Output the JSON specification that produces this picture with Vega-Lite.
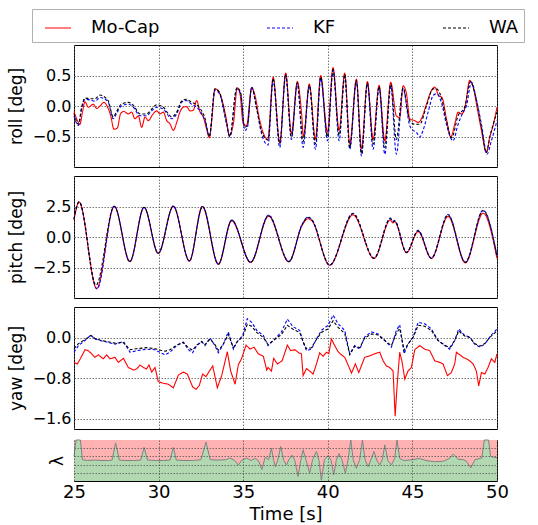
{
"$schema": "https://vega.github.io/schema/vega-lite/v6.json",
"padding": {"left": 6, "top": 8, "right": 2, "bottom": 2},
"background": "white",
"spacing": 7,
"config": {
  "font": "DejaVu Sans",
  "view": {"stroke": "black", "strokeWidth": 1},
  "axis": {"labelFont": "DejaVu Sans", "titleFont": "DejaVu Sans", "labelColor": "black", "titleColor": "black", "titleFontWeight": "normal", "gridColor": "#555555", "gridDash": [1.5, 1.5], "gridWidth": 0.8, "gridOpacity": 1, "domain": false, "ticks": false}
},
"resolve": {"legend": {"color": "independent", "strokeDash": "independent"}},
"datasets": {
"roll": [
{"t":25.0,"v":-0.09,"s":"Mo-Cap"},{"t":25.2,"v":-0.24,"s":"Mo-Cap"},{"t":25.35,"v":-0.3,"s":"Mo-Cap"},{"t":25.5,"v":-0.1,"s":"Mo-Cap"},{"t":25.65,"v":0.07,"s":"Mo-Cap"},{"t":25.85,"v":-0.02,"s":"Mo-Cap"},{"t":26.14,"v":0.03,"s":"Mo-Cap"},{"t":26.34,"v":-0.04,"s":"Mo-Cap"},{"t":26.54,"v":0.0,"s":"Mo-Cap"},{"t":26.77,"v":0.06,"s":"Mo-Cap"},{"t":26.97,"v":-0.01,"s":"Mo-Cap"},{"t":27.17,"v":-0.16,"s":"Mo-Cap"},{"t":27.36,"v":-0.38,"s":"Mo-Cap"},{"t":27.56,"v":-0.36,"s":"Mo-Cap"},{"t":27.76,"v":-0.12,"s":"Mo-Cap"},{"t":27.95,"v":-0.09,"s":"Mo-Cap"},{"t":28.21,"v":-0.13,"s":"Mo-Cap"},{"t":28.41,"v":-0.1,"s":"Mo-Cap"},{"t":28.6,"v":-0.21,"s":"Mo-Cap"},{"t":28.8,"v":-0.16,"s":"Mo-Cap"},{"t":29.0,"v":-0.35,"s":"Mo-Cap"},{"t":29.2,"v":-0.18,"s":"Mo-Cap"},{"t":29.39,"v":-0.24,"s":"Mo-Cap"},{"t":29.65,"v":-0.14,"s":"Mo-Cap"},{"t":29.89,"v":-0.08,"s":"Mo-Cap"},{"t":30.08,"v":-0.13,"s":"Mo-Cap"},{"t":30.28,"v":-0.1,"s":"Mo-Cap"},{"t":30.48,"v":-0.24,"s":"Mo-Cap"},{"t":30.67,"v":-0.29,"s":"Mo-Cap"},{"t":30.87,"v":-0.4,"s":"Mo-Cap"},{"t":31.07,"v":-0.27,"s":"Mo-Cap"},{"t":31.26,"v":-0.1,"s":"Mo-Cap"},{"t":31.46,"v":-0.02,"s":"Mo-Cap"},{"t":31.66,"v":-0.01,"s":"Mo-Cap"},{"t":31.86,"v":-0.08,"s":"Mo-Cap"},{"t":32.05,"v":-0.07,"s":"Mo-Cap"},{"t":32.25,"v":0.09,"s":"Mo-Cap"},{"t":32.45,"v":-0.1,"s":"Mo-Cap"},{"t":32.64,"v":-0.18,"s":"Mo-Cap"},{"t":32.84,"v":-0.38,"s":"Mo-Cap"},{"t":33.0,"v":-0.52,"s":"Mo-Cap"},{"t":33.14,"v":-0.24,"s":"Mo-Cap"},{"t":33.33,"v":0.28,"s":"Mo-Cap"},{"t":33.53,"v":0.25,"s":"Mo-Cap"},{"t":33.73,"v":0.11,"s":"Mo-Cap"},{"t":33.98,"v":-0.18,"s":"Mo-Cap"},{"t":34.18,"v":-0.48,"s":"Mo-Cap"},{"t":34.42,"v":-0.29,"s":"Mo-Cap"},{"t":34.65,"v":0.3,"s":"Mo-Cap"},{"t":34.81,"v":0.2,"s":"Mo-Cap"},{"t":35.0,"v":-0.29,"s":"Mo-Cap"},{"t":35.2,"v":-0.32,"s":"Mo-Cap"},{"t":35.5,"v":0.3,"s":"Mo-Cap"},{"t":35.7,"v":0.17,"s":"Mo-Cap"},{"t":35.95,"v":-0.2,"s":"Mo-Cap"},{"t":36.2,"v":-0.45,"s":"Mo-Cap"},{"t":36.45,"v":-0.55,"s":"Mo-Cap"},{"t":36.77,"v":0.47,"s":"Mo-Cap"},{"t":37.16,"v":-0.6,"s":"Mo-Cap"},{"t":37.51,"v":0.54,"s":"Mo-Cap"},{"t":37.85,"v":-0.45,"s":"Mo-Cap"},{"t":38.2,"v":0.4,"s":"Mo-Cap"},{"t":38.45,"v":-0.12,"s":"Mo-Cap"},{"t":38.56,"v":-0.5,"s":"Mo-Cap"},{"t":38.91,"v":0.36,"s":"Mo-Cap"},{"t":39.27,"v":-0.54,"s":"Mo-Cap"},{"t":39.58,"v":0.5,"s":"Mo-Cap"},{"t":39.98,"v":-0.43,"s":"Mo-Cap"},{"t":40.31,"v":0.63,"s":"Mo-Cap"},{"t":40.67,"v":-0.4,"s":"Mo-Cap"},{"t":41.0,"v":0.54,"s":"Mo-Cap"},{"t":41.3,"v":-0.62,"s":"Mo-Cap"},{"t":41.69,"v":0.44,"s":"Mo-Cap"},{"t":41.99,"v":-0.7,"s":"Mo-Cap"},{"t":42.34,"v":0.4,"s":"Mo-Cap"},{"t":42.68,"v":-0.54,"s":"Mo-Cap"},{"t":43.03,"v":0.34,"s":"Mo-Cap"},{"t":43.37,"v":-0.57,"s":"Mo-Cap"},{"t":43.72,"v":0.39,"s":"Mo-Cap"},{"t":44.05,"v":-0.16,"s":"Mo-Cap"},{"t":44.25,"v":-0.19,"s":"Mo-Cap"},{"t":44.45,"v":0.33,"s":"Mo-Cap"},{"t":44.65,"v":0.2,"s":"Mo-Cap"},{"t":44.84,"v":-0.21,"s":"Mo-Cap"},{"t":45.14,"v":-0.24,"s":"Mo-Cap"},{"t":45.34,"v":-0.27,"s":"Mo-Cap"},{"t":45.53,"v":-0.21,"s":"Mo-Cap"},{"t":45.83,"v":0.03,"s":"Mo-Cap"},{"t":46.12,"v":0.25,"s":"Mo-Cap"},{"t":46.32,"v":0.31,"s":"Mo-Cap"},{"t":46.56,"v":0.17,"s":"Mo-Cap"},{"t":46.75,"v":0.14,"s":"Mo-Cap"},{"t":47.01,"v":-0.21,"s":"Mo-Cap"},{"t":47.27,"v":-0.51,"s":"Mo-Cap"},{"t":47.5,"v":-0.3,"s":"Mo-Cap"},{"t":47.7,"v":-0.1,"s":"Mo-Cap"},{"t":47.9,"v":-0.13,"s":"Mo-Cap"},{"t":48.09,"v":-0.05,"s":"Mo-Cap"},{"t":48.39,"v":0.42,"s":"Mo-Cap"},{"t":48.59,"v":0.31,"s":"Mo-Cap"},{"t":48.84,"v":-0.05,"s":"Mo-Cap"},{"t":49.08,"v":-0.4,"s":"Mo-Cap"},{"t":49.37,"v":-0.76,"s":"Mo-Cap"},{"t":49.57,"v":-0.51,"s":"Mo-Cap"},{"t":49.77,"v":-0.32,"s":"Mo-Cap"},{"t":50.0,"v":-0.02,"s":"Mo-Cap"},
{"t":25.0,"v":-0.16,"s":"KF"},{"t":25.26,"v":-0.32,"s":"KF"},{"t":25.45,"v":-0.05,"s":"KF"},{"t":25.65,"v":0.11,"s":"KF"},{"t":25.94,"v":0.1,"s":"KF"},{"t":26.24,"v":0.08,"s":"KF"},{"t":26.54,"v":0.14,"s":"KF"},{"t":26.84,"v":0.11,"s":"KF"},{"t":27.03,"v":0.06,"s":"KF"},{"t":27.32,"v":-0.21,"s":"KF"},{"t":27.5,"v":-0.13,"s":"KF"},{"t":27.8,"v":0.0,"s":"KF"},{"t":28.21,"v":0.03,"s":"KF"},{"t":28.51,"v":-0.02,"s":"KF"},{"t":28.9,"v":-0.16,"s":"KF"},{"t":29.29,"v":-0.16,"s":"KF"},{"t":29.59,"v":-0.08,"s":"KF"},{"t":29.89,"v":-0.02,"s":"KF"},{"t":30.28,"v":-0.05,"s":"KF"},{"t":30.58,"v":-0.16,"s":"KF"},{"t":30.77,"v":-0.21,"s":"KF"},{"t":31.07,"v":-0.13,"s":"KF"},{"t":31.36,"v":0.06,"s":"KF"},{"t":31.62,"v":0.09,"s":"KF"},{"t":31.95,"v":0.03,"s":"KF"},{"t":32.25,"v":-0.02,"s":"KF"},{"t":32.45,"v":-0.08,"s":"KF"},{"t":32.74,"v":-0.24,"s":"KF"},{"t":33.0,"v":-0.49,"s":"KF"},{"t":33.33,"v":0.26,"s":"KF"},{"t":33.6,"v":0.2,"s":"KF"},{"t":34.02,"v":-0.3,"s":"KF"},{"t":34.22,"v":-0.51,"s":"KF"},{"t":34.61,"v":0.28,"s":"KF"},{"t":34.85,"v":0.2,"s":"KF"},{"t":35.1,"v":-0.4,"s":"KF"},{"t":35.25,"v":-0.35,"s":"KF"},{"t":35.5,"v":0.31,"s":"KF"},{"t":35.8,"v":-0.05,"s":"KF"},{"t":36.09,"v":-0.46,"s":"KF"},{"t":36.47,"v":-0.64,"s":"KF"},{"t":36.77,"v":0.43,"s":"KF"},{"t":37.16,"v":-0.68,"s":"KF"},{"t":37.51,"v":0.5,"s":"KF"},{"t":37.85,"v":-0.55,"s":"KF"},{"t":38.2,"v":0.36,"s":"KF"},{"t":38.54,"v":-0.68,"s":"KF"},{"t":38.91,"v":0.33,"s":"KF"},{"t":39.27,"v":-0.71,"s":"KF"},{"t":39.58,"v":0.45,"s":"KF"},{"t":39.98,"v":-0.57,"s":"KF"},{"t":40.31,"v":0.58,"s":"KF"},{"t":40.67,"v":-0.57,"s":"KF"},{"t":41.0,"v":0.48,"s":"KF"},{"t":41.3,"v":-0.71,"s":"KF"},{"t":41.69,"v":0.4,"s":"KF"},{"t":41.99,"v":-0.82,"s":"KF"},{"t":42.34,"v":0.36,"s":"KF"},{"t":42.68,"v":-0.71,"s":"KF"},{"t":43.03,"v":0.3,"s":"KF"},{"t":43.37,"v":-0.79,"s":"KF"},{"t":43.72,"v":0.33,"s":"KF"},{"t":44.05,"v":-0.79,"s":"KF"},{"t":44.45,"v":0.28,"s":"KF"},{"t":44.84,"v":-0.32,"s":"KF"},{"t":45.04,"v":-0.4,"s":"KF"},{"t":45.24,"v":-0.43,"s":"KF"},{"t":45.43,"v":-0.51,"s":"KF"},{"t":45.63,"v":-0.4,"s":"KF"},{"t":45.93,"v":-0.1,"s":"KF"},{"t":46.22,"v":0.17,"s":"KF"},{"t":46.42,"v":0.2,"s":"KF"},{"t":46.71,"v":0.06,"s":"KF"},{"t":47.01,"v":-0.3,"s":"KF"},{"t":47.4,"v":-0.57,"s":"KF"},{"t":47.7,"v":-0.3,"s":"KF"},{"t":48.0,"v":-0.1,"s":"KF"},{"t":48.19,"v":0.0,"s":"KF"},{"t":48.49,"v":0.39,"s":"KF"},{"t":48.78,"v":0.11,"s":"KF"},{"t":49.08,"v":-0.3,"s":"KF"},{"t":49.41,"v":-0.79,"s":"KF"},{"t":49.67,"v":-0.57,"s":"KF"},{"t":50.0,"v":-0.24,"s":"KF"},
{"t":25.0,"v":-0.12,"s":"WA"},{"t":25.26,"v":-0.3,"s":"WA"},{"t":25.45,"v":-0.02,"s":"WA"},{"t":25.65,"v":0.13,"s":"WA"},{"t":25.94,"v":0.12,"s":"WA"},{"t":26.24,"v":0.12,"s":"WA"},{"t":26.54,"v":0.18,"s":"WA"},{"t":26.84,"v":0.14,"s":"WA"},{"t":27.03,"v":0.08,"s":"WA"},{"t":27.32,"v":-0.18,"s":"WA"},{"t":27.5,"v":-0.1,"s":"WA"},{"t":27.8,"v":0.03,"s":"WA"},{"t":28.21,"v":0.06,"s":"WA"},{"t":28.51,"v":0.01,"s":"WA"},{"t":28.9,"v":-0.13,"s":"WA"},{"t":29.29,"v":-0.13,"s":"WA"},{"t":29.59,"v":-0.05,"s":"WA"},{"t":29.89,"v":0.02,"s":"WA"},{"t":30.28,"v":-0.02,"s":"WA"},{"t":30.58,"v":-0.13,"s":"WA"},{"t":30.77,"v":-0.18,"s":"WA"},{"t":31.07,"v":-0.1,"s":"WA"},{"t":31.36,"v":0.08,"s":"WA"},{"t":31.62,"v":0.11,"s":"WA"},{"t":31.95,"v":0.06,"s":"WA"},{"t":32.25,"v":0.02,"s":"WA"},{"t":32.45,"v":-0.04,"s":"WA"},{"t":32.74,"v":-0.2,"s":"WA"},{"t":33.0,"v":-0.5,"s":"WA"},{"t":33.33,"v":0.28,"s":"WA"},{"t":33.6,"v":0.22,"s":"WA"},{"t":34.02,"v":-0.28,"s":"WA"},{"t":34.2,"v":-0.5,"s":"WA"},{"t":34.63,"v":0.3,"s":"WA"},{"t":34.85,"v":0.22,"s":"WA"},{"t":35.08,"v":-0.35,"s":"WA"},{"t":35.25,"v":-0.32,"s":"WA"},{"t":35.5,"v":0.3,"s":"WA"},{"t":35.8,"v":-0.05,"s":"WA"},{"t":36.09,"v":-0.42,"s":"WA"},{"t":36.47,"v":-0.56,"s":"WA"},{"t":36.77,"v":0.45,"s":"WA"},{"t":37.16,"v":-0.62,"s":"WA"},{"t":37.51,"v":0.52,"s":"WA"},{"t":37.85,"v":-0.5,"s":"WA"},{"t":38.2,"v":0.38,"s":"WA"},{"t":38.54,"v":-0.58,"s":"WA"},{"t":38.91,"v":0.34,"s":"WA"},{"t":39.27,"v":-0.62,"s":"WA"},{"t":39.58,"v":0.48,"s":"WA"},{"t":39.98,"v":-0.5,"s":"WA"},{"t":40.31,"v":0.6,"s":"WA"},{"t":40.67,"v":-0.48,"s":"WA"},{"t":41.0,"v":0.52,"s":"WA"},{"t":41.3,"v":-0.68,"s":"WA"},{"t":41.69,"v":0.42,"s":"WA"},{"t":41.99,"v":-0.78,"s":"WA"},{"t":42.34,"v":0.38,"s":"WA"},{"t":42.68,"v":-0.62,"s":"WA"},{"t":43.03,"v":0.32,"s":"WA"},{"t":43.37,"v":-0.68,"s":"WA"},{"t":43.72,"v":0.36,"s":"WA"},{"t":44.05,"v":-0.55,"s":"WA"},{"t":44.45,"v":0.3,"s":"WA"},{"t":44.84,"v":-0.24,"s":"WA"},{"t":45.14,"v":-0.3,"s":"WA"},{"t":45.43,"v":-0.3,"s":"WA"},{"t":45.83,"v":0.0,"s":"WA"},{"t":46.22,"v":0.28,"s":"WA"},{"t":46.42,"v":0.28,"s":"WA"},{"t":46.71,"v":0.14,"s":"WA"},{"t":47.01,"v":-0.24,"s":"WA"},{"t":47.32,"v":-0.52,"s":"WA"},{"t":47.7,"v":-0.16,"s":"WA"},{"t":48.09,"v":-0.02,"s":"WA"},{"t":48.43,"v":0.4,"s":"WA"},{"t":48.7,"v":0.2,"s":"WA"},{"t":49.08,"v":-0.35,"s":"WA"},{"t":49.37,"v":-0.76,"s":"WA"},{"t":49.6,"v":-0.48,"s":"WA"},{"t":50.0,"v":-0.1,"s":"WA"}
],
"pitch": [
{"t":25.0,"v":1.4,"s":"Mo-Cap"},{"t":25.3,"v":2.86,"s":"Mo-Cap"},{"t":26.34,"v":-4.23,"s":"Mo-Cap"},{"t":27.38,"v":2.5,"s":"Mo-Cap"},{"t":28.3,"v":-2.03,"s":"Mo-Cap"},{"t":29.14,"v":2.42,"s":"Mo-Cap"},{"t":29.98,"v":-1.35,"s":"Mo-Cap"},{"t":30.87,"v":2.5,"s":"Mo-Cap"},{"t":31.82,"v":-1.98,"s":"Mo-Cap"},{"t":32.58,"v":2.5,"s":"Mo-Cap"},{"t":33.53,"v":-2.25,"s":"Mo-Cap"},{"t":34.32,"v":1.32,"s":"Mo-Cap"},{"t":35.44,"v":-2.09,"s":"Mo-Cap"},{"t":36.5,"v":1.7,"s":"Mo-Cap"},{"t":37.69,"v":-2.03,"s":"Mo-Cap"},{"t":38.5,"v":1.0,"s":"Mo-Cap"},{"t":38.83,"v":1.5,"s":"Mo-Cap"},{"t":39.05,"v":1.35,"s":"Mo-Cap"},{"t":40.11,"v":-2.31,"s":"Mo-Cap"},{"t":41.49,"v":1.81,"s":"Mo-Cap"},{"t":42.73,"v":-1.76,"s":"Mo-Cap"},{"t":43.7,"v":1.4,"s":"Mo-Cap"},{"t":43.85,"v":1.15,"s":"Mo-Cap"},{"t":43.95,"v":1.25,"s":"Mo-Cap"},{"t":44.65,"v":-1.29,"s":"Mo-Cap"},{"t":45.34,"v":0.44,"s":"Mo-Cap"},{"t":46.12,"v":-1.76,"s":"Mo-Cap"},{"t":47.11,"v":1.68,"s":"Mo-Cap"},{"t":48.13,"v":-2.12,"s":"Mo-Cap"},{"t":49.18,"v":1.95,"s":"Mo-Cap"},{"t":50.0,"v":-1.76,"s":"Mo-Cap"},
{"t":25.0,"v":1.5,"s":"KF"},{"t":25.3,"v":2.9,"s":"KF"},{"t":26.36,"v":-4.25,"s":"KF"},{"t":27.38,"v":2.55,"s":"KF"},{"t":28.3,"v":-2.0,"s":"KF"},{"t":29.14,"v":2.45,"s":"KF"},{"t":29.98,"v":-1.32,"s":"KF"},{"t":30.87,"v":2.55,"s":"KF"},{"t":31.82,"v":-1.95,"s":"KF"},{"t":32.6,"v":2.5,"s":"KF"},{"t":33.53,"v":-2.2,"s":"KF"},{"t":34.32,"v":1.4,"s":"KF"},{"t":35.44,"v":-2.05,"s":"KF"},{"t":36.5,"v":1.8,"s":"KF"},{"t":37.7,"v":-2.0,"s":"KF"},{"t":38.5,"v":1.1,"s":"KF"},{"t":38.83,"v":1.65,"s":"KF"},{"t":39.05,"v":1.45,"s":"KF"},{"t":40.11,"v":-2.3,"s":"KF"},{"t":41.49,"v":1.95,"s":"KF"},{"t":42.73,"v":-1.72,"s":"KF"},{"t":43.7,"v":1.55,"s":"KF"},{"t":43.85,"v":1.3,"s":"KF"},{"t":43.95,"v":1.35,"s":"KF"},{"t":44.65,"v":-1.25,"s":"KF"},{"t":45.34,"v":0.55,"s":"KF"},{"t":46.12,"v":-1.72,"s":"KF"},{"t":47.11,"v":1.85,"s":"KF"},{"t":48.13,"v":-2.05,"s":"KF"},{"t":49.18,"v":2.2,"s":"KF"},{"t":50.0,"v":-1.5,"s":"KF"},
{"t":25.0,"v":1.45,"s":"WA"},{"t":25.3,"v":2.88,"s":"WA"},{"t":26.3,"v":-3.95,"s":"WA"},{"t":27.38,"v":2.52,"s":"WA"},{"t":28.3,"v":-2.02,"s":"WA"},{"t":29.14,"v":2.44,"s":"WA"},{"t":29.98,"v":-1.33,"s":"WA"},{"t":30.87,"v":2.52,"s":"WA"},{"t":31.82,"v":-1.96,"s":"WA"},{"t":32.6,"v":2.5,"s":"WA"},{"t":33.53,"v":-2.22,"s":"WA"},{"t":34.32,"v":1.38,"s":"WA"},{"t":35.44,"v":-2.07,"s":"WA"},{"t":36.5,"v":1.75,"s":"WA"},{"t":37.7,"v":-2.02,"s":"WA"},{"t":38.5,"v":1.05,"s":"WA"},{"t":38.83,"v":1.6,"s":"WA"},{"t":39.05,"v":1.4,"s":"WA"},{"t":40.11,"v":-2.3,"s":"WA"},{"t":41.49,"v":1.9,"s":"WA"},{"t":42.73,"v":-1.74,"s":"WA"},{"t":43.7,"v":1.5,"s":"WA"},{"t":43.85,"v":1.25,"s":"WA"},{"t":43.95,"v":1.3,"s":"WA"},{"t":44.65,"v":-1.27,"s":"WA"},{"t":45.34,"v":0.5,"s":"WA"},{"t":46.12,"v":-1.74,"s":"WA"},{"t":47.11,"v":1.8,"s":"WA"},{"t":48.13,"v":-2.08,"s":"WA"},{"t":49.18,"v":2.15,"s":"WA"},{"t":50.0,"v":-1.6,"s":"WA"}
],
"yaw": [
{"t":25.0,"v":-0.49,"s":"Mo-Cap"},{"t":25.2,"v":-0.52,"s":"Mo-Cap"},{"t":25.39,"v":-0.41,"s":"Mo-Cap"},{"t":25.65,"v":-0.24,"s":"Mo-Cap"},{"t":25.85,"v":-0.26,"s":"Mo-Cap"},{"t":26.04,"v":-0.32,"s":"Mo-Cap"},{"t":26.24,"v":-0.39,"s":"Mo-Cap"},{"t":26.44,"v":-0.34,"s":"Mo-Cap"},{"t":26.73,"v":-0.42,"s":"Mo-Cap"},{"t":26.93,"v":-0.34,"s":"Mo-Cap"},{"t":27.13,"v":-0.42,"s":"Mo-Cap"},{"t":27.42,"v":-0.39,"s":"Mo-Cap"},{"t":27.62,"v":-0.49,"s":"Mo-Cap"},{"t":27.92,"v":-0.41,"s":"Mo-Cap"},{"t":28.21,"v":-0.59,"s":"Mo-Cap"},{"t":28.51,"v":-0.64,"s":"Mo-Cap"},{"t":28.7,"v":-0.62,"s":"Mo-Cap"},{"t":28.9,"v":-0.54,"s":"Mo-Cap"},{"t":29.1,"v":-0.59,"s":"Mo-Cap"},{"t":29.29,"v":-0.62,"s":"Mo-Cap"},{"t":29.43,"v":-0.54,"s":"Mo-Cap"},{"t":29.59,"v":-0.68,"s":"Mo-Cap"},{"t":29.79,"v":-0.59,"s":"Mo-Cap"},{"t":29.98,"v":-0.87,"s":"Mo-Cap"},{"t":30.28,"v":-0.9,"s":"Mo-Cap"},{"t":30.58,"v":-0.92,"s":"Mo-Cap"},{"t":30.87,"v":-0.99,"s":"Mo-Cap"},{"t":31.17,"v":-0.74,"s":"Mo-Cap"},{"t":31.46,"v":-0.68,"s":"Mo-Cap"},{"t":31.7,"v":-0.72,"s":"Mo-Cap"},{"t":32.01,"v":-0.97,"s":"Mo-Cap"},{"t":32.21,"v":-1.02,"s":"Mo-Cap"},{"t":32.41,"v":-0.94,"s":"Mo-Cap"},{"t":32.6,"v":-0.72,"s":"Mo-Cap"},{"t":32.8,"v":-0.77,"s":"Mo-Cap"},{"t":33.0,"v":-0.66,"s":"Mo-Cap"},{"t":33.2,"v":-0.56,"s":"Mo-Cap"},{"t":33.47,"v":-0.99,"s":"Mo-Cap"},{"t":33.73,"v":-0.75,"s":"Mo-Cap"},{"t":34.06,"v":-0.28,"s":"Mo-Cap"},{"t":34.26,"v":-0.66,"s":"Mo-Cap"},{"t":34.52,"v":-0.92,"s":"Mo-Cap"},{"t":34.71,"v":-0.54,"s":"Mo-Cap"},{"t":34.91,"v":-0.41,"s":"Mo-Cap"},{"t":35.17,"v":-0.15,"s":"Mo-Cap"},{"t":35.4,"v":-0.23,"s":"Mo-Cap"},{"t":35.64,"v":-0.19,"s":"Mo-Cap"},{"t":35.89,"v":-0.32,"s":"Mo-Cap"},{"t":36.19,"v":-0.37,"s":"Mo-Cap"},{"t":36.39,"v":-0.64,"s":"Mo-Cap"},{"t":36.47,"v":-0.59,"s":"Mo-Cap"},{"t":36.67,"v":-0.66,"s":"Mo-Cap"},{"t":36.8,"v":-0.41,"s":"Mo-Cap"},{"t":37.02,"v":-0.52,"s":"Mo-Cap"},{"t":37.3,"v":-0.46,"s":"Mo-Cap"},{"t":37.46,"v":-0.3,"s":"Mo-Cap"},{"t":37.61,"v":-0.15,"s":"Mo-Cap"},{"t":37.81,"v":-0.26,"s":"Mo-Cap"},{"t":38.05,"v":-0.24,"s":"Mo-Cap"},{"t":38.28,"v":-0.3,"s":"Mo-Cap"},{"t":38.44,"v":-0.32,"s":"Mo-Cap"},{"t":38.54,"v":-0.75,"s":"Mo-Cap"},{"t":38.74,"v":-0.61,"s":"Mo-Cap"},{"t":38.93,"v":-0.66,"s":"Mo-Cap"},{"t":39.13,"v":-0.72,"s":"Mo-Cap"},{"t":39.33,"v":-0.52,"s":"Mo-Cap"},{"t":39.52,"v":-0.3,"s":"Mo-Cap"},{"t":39.72,"v":-0.37,"s":"Mo-Cap"},{"t":39.92,"v":-0.29,"s":"Mo-Cap"},{"t":40.06,"v":-0.32,"s":"Mo-Cap"},{"t":40.21,"v":-0.03,"s":"Mo-Cap"},{"t":40.41,"v":-0.16,"s":"Mo-Cap"},{"t":40.61,"v":-0.28,"s":"Mo-Cap"},{"t":40.8,"v":-0.34,"s":"Mo-Cap"},{"t":41.0,"v":-0.39,"s":"Mo-Cap"},{"t":41.2,"v":-0.54,"s":"Mo-Cap"},{"t":41.4,"v":-0.7,"s":"Mo-Cap"},{"t":41.63,"v":-0.52,"s":"Mo-Cap"},{"t":41.83,"v":-0.69,"s":"Mo-Cap"},{"t":42.18,"v":-0.39,"s":"Mo-Cap"},{"t":42.48,"v":-0.36,"s":"Mo-Cap"},{"t":42.77,"v":-0.32,"s":"Mo-Cap"},{"t":43.07,"v":-0.29,"s":"Mo-Cap"},{"t":43.27,"v":-0.46,"s":"Mo-Cap"},{"t":43.46,"v":-0.56,"s":"Mo-Cap"},{"t":43.66,"v":-0.59,"s":"Mo-Cap"},{"t":43.86,"v":-0.66,"s":"Mo-Cap"},{"t":43.98,"v":-1.55,"s":"Mo-Cap"},{"t":44.09,"v":-0.97,"s":"Mo-Cap"},{"t":44.25,"v":-0.29,"s":"Mo-Cap"},{"t":44.39,"v":-0.48,"s":"Mo-Cap"},{"t":44.55,"v":-0.82,"s":"Mo-Cap"},{"t":44.74,"v":-0.66,"s":"Mo-Cap"},{"t":44.94,"v":-0.59,"s":"Mo-Cap"},{"t":45.14,"v":-0.24,"s":"Mo-Cap"},{"t":45.43,"v":-0.16,"s":"Mo-Cap"},{"t":45.73,"v":-0.23,"s":"Mo-Cap"},{"t":46.03,"v":-0.26,"s":"Mo-Cap"},{"t":46.32,"v":-0.46,"s":"Mo-Cap"},{"t":46.62,"v":-0.49,"s":"Mo-Cap"},{"t":46.81,"v":-0.52,"s":"Mo-Cap"},{"t":47.07,"v":-0.75,"s":"Mo-Cap"},{"t":47.3,"v":-0.69,"s":"Mo-Cap"},{"t":47.5,"v":-0.52,"s":"Mo-Cap"},{"t":47.6,"v":-0.29,"s":"Mo-Cap"},{"t":47.8,"v":-0.34,"s":"Mo-Cap"},{"t":47.99,"v":-0.39,"s":"Mo-Cap"},{"t":48.19,"v":-0.42,"s":"Mo-Cap"},{"t":48.39,"v":-0.46,"s":"Mo-Cap"},{"t":48.59,"v":-0.52,"s":"Mo-Cap"},{"t":48.78,"v":-0.66,"s":"Mo-Cap"},{"t":48.92,"v":-0.95,"s":"Mo-Cap"},{"t":49.08,"v":-0.69,"s":"Mo-Cap"},{"t":49.28,"v":-0.72,"s":"Mo-Cap"},{"t":49.47,"v":-0.59,"s":"Mo-Cap"},{"t":49.67,"v":-0.42,"s":"Mo-Cap"},{"t":49.87,"v":-0.49,"s":"Mo-Cap"},{"t":50.0,"v":-0.32,"s":"Mo-Cap"},
{"t":25.0,"v":-0.29,"s":"KF"},{"t":25.26,"v":-0.16,"s":"KF"},{"t":25.75,"v":-0.03,"s":"KF"},{"t":25.99,"v":0.05,"s":"KF"},{"t":26.24,"v":-0.03,"s":"KF"},{"t":26.54,"v":-0.06,"s":"KF"},{"t":26.93,"v":-0.09,"s":"KF"},{"t":27.42,"v":-0.13,"s":"KF"},{"t":27.92,"v":-0.08,"s":"KF"},{"t":28.31,"v":-0.29,"s":"KF"},{"t":28.7,"v":-0.26,"s":"KF"},{"t":29.29,"v":-0.23,"s":"KF"},{"t":29.79,"v":-0.24,"s":"KF"},{"t":30.12,"v":-0.3,"s":"KF"},{"t":30.38,"v":-0.34,"s":"KF"},{"t":30.67,"v":-0.29,"s":"KF"},{"t":31.07,"v":-0.16,"s":"KF"},{"t":31.46,"v":-0.09,"s":"KF"},{"t":31.76,"v":-0.24,"s":"KF"},{"t":32.01,"v":-0.3,"s":"KF"},{"t":32.25,"v":-0.16,"s":"KF"},{"t":32.55,"v":-0.08,"s":"KF"},{"t":32.74,"v":-0.16,"s":"KF"},{"t":33.04,"v":-0.01,"s":"KF"},{"t":33.33,"v":-0.16,"s":"KF"},{"t":33.53,"v":-0.3,"s":"KF"},{"t":33.79,"v":-0.16,"s":"KF"},{"t":34.12,"v":0.11,"s":"KF"},{"t":34.42,"v":-0.23,"s":"KF"},{"t":34.65,"v":-0.08,"s":"KF"},{"t":34.97,"v":0.04,"s":"KF"},{"t":35.24,"v":0.37,"s":"KF"},{"t":35.5,"v":0.3,"s":"KF"},{"t":35.8,"v":0.14,"s":"KF"},{"t":36.19,"v":0.04,"s":"KF"},{"t":36.47,"v":-0.16,"s":"KF"},{"t":36.86,"v":-0.03,"s":"KF"},{"t":37.26,"v":0.11,"s":"KF"},{"t":37.61,"v":0.36,"s":"KF"},{"t":37.95,"v":0.21,"s":"KF"},{"t":38.34,"v":0.14,"s":"KF"},{"t":38.54,"v":-0.09,"s":"KF"},{"t":38.74,"v":-0.26,"s":"KF"},{"t":39.03,"v":-0.23,"s":"KF"},{"t":39.33,"v":-0.03,"s":"KF"},{"t":39.62,"v":0.14,"s":"KF"},{"t":40.02,"v":0.24,"s":"KF"},{"t":40.31,"v":0.44,"s":"KF"},{"t":40.61,"v":0.27,"s":"KF"},{"t":41.0,"v":0.14,"s":"KF"},{"t":41.3,"v":-0.32,"s":"KF"},{"t":41.59,"v":-0.16,"s":"KF"},{"t":41.89,"v":-0.23,"s":"KF"},{"t":42.18,"v":0.01,"s":"KF"},{"t":42.58,"v":0.11,"s":"KF"},{"t":42.97,"v":0.07,"s":"KF"},{"t":43.37,"v":-0.06,"s":"KF"},{"t":43.76,"v":-0.19,"s":"KF"},{"t":44.05,"v":0.14,"s":"KF"},{"t":44.25,"v":0.25,"s":"KF"},{"t":44.51,"v":-0.32,"s":"KF"},{"t":44.74,"v":-0.13,"s":"KF"},{"t":45.04,"v":0.01,"s":"KF"},{"t":45.34,"v":0.3,"s":"KF"},{"t":45.73,"v":0.27,"s":"KF"},{"t":46.12,"v":0.17,"s":"KF"},{"t":46.52,"v":-0.06,"s":"KF"},{"t":46.91,"v":-0.16,"s":"KF"},{"t":47.21,"v":-0.23,"s":"KF"},{"t":47.5,"v":-0.06,"s":"KF"},{"t":47.74,"v":0.17,"s":"KF"},{"t":48.09,"v":0.04,"s":"KF"},{"t":48.39,"v":0.01,"s":"KF"},{"t":48.68,"v":-0.13,"s":"KF"},{"t":48.98,"v":-0.19,"s":"KF"},{"t":49.28,"v":-0.13,"s":"KF"},{"t":49.57,"v":0.01,"s":"KF"},{"t":50.0,"v":0.17,"s":"KF"},
{"t":25.0,"v":-0.22,"s":"WA"},{"t":25.26,"v":-0.12,"s":"WA"},{"t":25.75,"v":-0.02,"s":"WA"},{"t":25.99,"v":0.04,"s":"WA"},{"t":26.24,"v":-0.02,"s":"WA"},{"t":26.54,"v":-0.05,"s":"WA"},{"t":26.93,"v":-0.08,"s":"WA"},{"t":27.42,"v":-0.11,"s":"WA"},{"t":27.92,"v":-0.1,"s":"WA"},{"t":28.31,"v":-0.24,"s":"WA"},{"t":28.7,"v":-0.22,"s":"WA"},{"t":29.29,"v":-0.2,"s":"WA"},{"t":29.79,"v":-0.22,"s":"WA"},{"t":30.12,"v":-0.25,"s":"WA"},{"t":30.38,"v":-0.27,"s":"WA"},{"t":30.67,"v":-0.24,"s":"WA"},{"t":31.07,"v":-0.15,"s":"WA"},{"t":31.46,"v":-0.1,"s":"WA"},{"t":31.76,"v":-0.2,"s":"WA"},{"t":32.01,"v":-0.25,"s":"WA"},{"t":32.25,"v":-0.15,"s":"WA"},{"t":32.55,"v":-0.08,"s":"WA"},{"t":32.74,"v":-0.14,"s":"WA"},{"t":33.04,"v":-0.03,"s":"WA"},{"t":33.33,"v":-0.14,"s":"WA"},{"t":33.53,"v":-0.25,"s":"WA"},{"t":33.79,"v":-0.15,"s":"WA"},{"t":34.12,"v":0.06,"s":"WA"},{"t":34.42,"v":-0.2,"s":"WA"},{"t":34.65,"v":-0.08,"s":"WA"},{"t":34.97,"v":0.01,"s":"WA"},{"t":35.24,"v":0.26,"s":"WA"},{"t":35.5,"v":0.22,"s":"WA"},{"t":35.8,"v":0.1,"s":"WA"},{"t":36.19,"v":0.0,"s":"WA"},{"t":36.47,"v":-0.14,"s":"WA"},{"t":36.86,"v":-0.04,"s":"WA"},{"t":37.26,"v":0.06,"s":"WA"},{"t":37.61,"v":0.24,"s":"WA"},{"t":37.95,"v":0.16,"s":"WA"},{"t":38.34,"v":0.1,"s":"WA"},{"t":38.54,"v":-0.08,"s":"WA"},{"t":38.74,"v":-0.22,"s":"WA"},{"t":39.03,"v":-0.2,"s":"WA"},{"t":39.33,"v":-0.04,"s":"WA"},{"t":39.62,"v":0.1,"s":"WA"},{"t":40.02,"v":0.17,"s":"WA"},{"t":40.31,"v":0.33,"s":"WA"},{"t":40.61,"v":0.2,"s":"WA"},{"t":41.0,"v":0.08,"s":"WA"},{"t":41.3,"v":-0.34,"s":"WA"},{"t":41.59,"v":-0.17,"s":"WA"},{"t":41.89,"v":-0.2,"s":"WA"},{"t":42.18,"v":-0.01,"s":"WA"},{"t":42.58,"v":0.07,"s":"WA"},{"t":42.97,"v":0.05,"s":"WA"},{"t":43.37,"v":-0.06,"s":"WA"},{"t":43.76,"v":-0.16,"s":"WA"},{"t":44.05,"v":0.08,"s":"WA"},{"t":44.25,"v":0.18,"s":"WA"},{"t":44.51,"v":-0.25,"s":"WA"},{"t":44.74,"v":-0.13,"s":"WA"},{"t":45.04,"v":0.0,"s":"WA"},{"t":45.34,"v":0.24,"s":"WA"},{"t":45.73,"v":0.22,"s":"WA"},{"t":46.12,"v":0.14,"s":"WA"},{"t":46.52,"v":-0.06,"s":"WA"},{"t":46.91,"v":-0.15,"s":"WA"},{"t":47.21,"v":-0.2,"s":"WA"},{"t":47.5,"v":-0.06,"s":"WA"},{"t":47.74,"v":0.13,"s":"WA"},{"t":48.09,"v":0.03,"s":"WA"},{"t":48.39,"v":0.0,"s":"WA"},{"t":48.68,"v":-0.12,"s":"WA"},{"t":48.98,"v":-0.17,"s":"WA"},{"t":49.28,"v":-0.12,"s":"WA"},{"t":49.57,"v":0.0,"s":"WA"},{"t":50.0,"v":0.13,"s":"WA"}
],
"lam": [
{"t":25.0,"v":0.6},{"t":25.12,"v":1.0},{"t":25.38,"v":1.0},{"t":25.5,"v":0.52},{"t":25.8,"v":0.5},{"t":26.2,"v":0.51},{"t":26.6,"v":0.5},{"t":27.0,"v":0.5},{"t":27.25,"v":0.51},{"t":27.46,"v":0.93},{"t":27.68,"v":0.51},{"t":28.0,"v":0.5},{"t":28.5,"v":0.5},{"t":28.95,"v":0.51},{"t":29.14,"v":0.82},{"t":29.35,"v":0.51},{"t":29.8,"v":0.5},{"t":30.3,"v":0.5},{"t":30.68,"v":0.51},{"t":30.87,"v":0.82},{"t":31.05,"v":0.51},{"t":31.5,"v":0.5},{"t":32.0,"v":0.5},{"t":32.5,"v":0.52},{"t":32.8,"v":0.95},{"t":33.05,"v":0.52},{"t":33.5,"v":0.51},{"t":34.0,"v":0.52},{"t":34.2,"v":0.56},{"t":34.5,"v":0.5},{"t":34.71,"v":0.39},{"t":34.9,"v":0.5},{"t":35.2,"v":0.56},{"t":35.45,"v":0.5},{"t":35.7,"v":0.55},{"t":35.9,"v":0.5},{"t":36.1,"v":0.28},{"t":36.3,"v":0.58},{"t":36.5,"v":0.52},{"t":36.67,"v":0.8},{"t":36.8,"v":0.5},{"t":36.9,"v":0.35},{"t":37.05,"v":0.52},{"t":37.22,"v":0.84},{"t":37.4,"v":0.5},{"t":37.55,"v":0.39},{"t":37.7,"v":0.52},{"t":37.89,"v":0.63},{"t":38.05,"v":0.5},{"t":38.24,"v":0.11},{"t":38.4,"v":0.5},{"t":38.54,"v":0.76},{"t":38.72,"v":0.5},{"t":38.93,"v":0.19},{"t":39.1,"v":0.52},{"t":39.33,"v":0.72},{"t":39.48,"v":0.5},{"t":39.62,"v":0.02},{"t":39.8,"v":0.52},{"t":40.02,"v":0.62},{"t":40.2,"v":0.5},{"t":40.35,"v":0.15},{"t":40.5,"v":0.5},{"t":40.67,"v":0.67},{"t":40.85,"v":0.5},{"t":41.04,"v":0.19},{"t":41.2,"v":0.52},{"t":41.36,"v":1.0},{"t":41.5,"v":0.52},{"t":41.69,"v":0.31},{"t":41.88,"v":0.52},{"t":42.05,"v":1.0},{"t":42.2,"v":0.52},{"t":42.38,"v":0.35},{"t":42.55,"v":0.52},{"t":42.73,"v":0.72},{"t":42.9,"v":0.5},{"t":43.07,"v":0.39},{"t":43.22,"v":0.52},{"t":43.37,"v":0.88},{"t":43.55,"v":0.5},{"t":43.76,"v":0.39},{"t":43.95,"v":0.55},{"t":44.09,"v":1.0},{"t":44.25,"v":0.55},{"t":44.5,"v":0.5},{"t":45.0,"v":0.52},{"t":45.4,"v":0.55},{"t":45.8,"v":0.5},{"t":46.3,"v":0.47},{"t":46.8,"v":0.48},{"t":47.2,"v":0.55},{"t":47.42,"v":0.66},{"t":47.7,"v":0.53},{"t":48.0,"v":0.52},{"t":48.2,"v":0.48},{"t":48.45,"v":0.32},{"t":48.7,"v":0.52},{"t":49.1,"v":0.56},{"t":49.25,"v":1.0},{"t":49.5,"v":1.0},{"t":49.62,"v":0.6},{"t":49.8,"v":0.58},{"t":50.0,"v":0.57}
]
},
"vconcat": [
{
  "width": 423, "height": 122,
  "data": {"name": "roll"},
  "mark": {"type": "line", "interpolate": "monotone", "strokeWidth": 1.1},
  "encoding": {
    "x": {"field": "t", "type": "quantitative", "scale": {"domain": [25, 50], "nice": false, "zero": false}, "axis": {"values": [25, 30, 35, 40, 45, 50], "labels": false, "title": null, "grid": true}},
    "y": {"field": "v", "type": "quantitative", "scale": {"domain": [-1, 1], "nice": false, "zero": false}, "axis": {"values": [-0.5, 0, 0.5], "format": ".1f", "title": "roll [deg]", "labelFontSize": 16, "titleFontSize": 17, "labelPadding": 3, "titlePadding": 7}},
    "color": {"field": "s", "type": "nominal", "scale": {"domain": ["Mo-Cap", "KF", "WA"], "range": ["#ff0000", "#0000ff", "#000000"]},
      "legend": {"title": null, "orient": "none", "legendX": -42, "legendY": -36, "direction": "horizontal", "symbolType": "stroke", "symbolSize": 676, "symbolStrokeWidth": 1.2, "labelFontSize": 18, "labelFont": "DejaVu Sans", "labelColor": "black", "labelOffset": 19, "columnPadding": 99, "padding": 5, "symbolOffset": 7, "strokeColor": "#b0b0b0", "fillColor": "white"}},
    "strokeDash": {"field": "s", "type": "nominal", "scale": {"domain": ["Mo-Cap", "KF", "WA"], "range": [[1, 0], [3, 2], [3, 2]]},
      "legend": {"title": null, "orient": "none", "legendX": -42, "legendY": -36, "direction": "horizontal", "symbolType": "stroke", "symbolSize": 676, "symbolStrokeWidth": 1.2, "labelFontSize": 18, "labelFont": "DejaVu Sans", "labelColor": "black", "labelOffset": 19, "columnPadding": 99, "padding": 5, "symbolOffset": 7, "strokeColor": "#b0b0b0", "fillColor": "white"}}
  }
},
{
  "width": 423, "height": 122,
  "data": {"name": "pitch"},
  "mark": {"type": "line", "interpolate": "monotone", "strokeWidth": 1.1},
  "encoding": {
    "x": {"field": "t", "type": "quantitative", "scale": {"domain": [25, 50], "nice": false, "zero": false}, "axis": {"values": [25, 30, 35, 40, 45, 50], "labels": false, "title": null, "grid": true}},
    "y": {"field": "v", "type": "quantitative", "scale": {"domain": [-5, 5], "nice": false, "zero": false}, "axis": {"values": [-2.5, 0, 2.5], "format": ".1f", "title": "pitch [deg]", "labelFontSize": 16, "titleFontSize": 17, "labelPadding": 3, "titlePadding": 7}},
    "color": {"field": "s", "type": "nominal", "scale": {"domain": ["Mo-Cap", "KF", "WA"], "range": ["#ff0000", "#0000ff", "#000000"]}, "legend": null},
    "strokeDash": {"field": "s", "type": "nominal", "scale": {"domain": ["Mo-Cap", "KF", "WA"], "range": [[1, 0], [3, 2], [3, 2]]}, "legend": null}
  }
},
{
  "width": 423, "height": 122,
  "data": {"name": "yaw"},
  "mark": {"type": "line", "strokeWidth": 1.1},
  "encoding": {
    "x": {"field": "t", "type": "quantitative", "scale": {"domain": [25, 50], "nice": false, "zero": false}, "axis": {"values": [25, 30, 35, 40, 45, 50], "labels": false, "title": null, "grid": true}},
    "y": {"field": "v", "type": "quantitative", "scale": {"domain": [-1.8, 0.6], "nice": false, "zero": false}, "axis": {"values": [-1.6, -0.8, 0], "format": ".1f", "title": "yaw [deg]", "labelFontSize": 16, "titleFontSize": 17, "labelPadding": 3, "titlePadding": 7}},
    "color": {"field": "s", "type": "nominal", "scale": {"domain": ["Mo-Cap", "KF", "WA"], "range": ["#ff0000", "#0000ff", "#000000"]}, "legend": null},
    "strokeDash": {"field": "s", "type": "nominal", "scale": {"domain": ["Mo-Cap", "KF", "WA"], "range": [[1, 0], [3, 2], [3, 2]]}, "legend": null}
  }
},
{
  "width": 423, "height": 41,
  "data": {"name": "lam"},
  "encoding": {
    "x": {"field": "t", "type": "quantitative", "scale": {"domain": [25, 50], "nice": false, "zero": false}, "axis": {"values": [25, 30, 35, 40, 45, 50], "format": "d", "title": "Time [s]", "labelFontSize": 18, "titleFontSize": 18, "labelPadding": 2, "titlePadding": 4, "labelFlush": false, "grid": true, "zindex": 1}},
    "y": {"field": "v", "type": "quantitative", "scale": {"domain": [0, 1], "nice": false, "zero": false}, "axis": {"values": [0.2, 0.4, 0.6, 0.8], "labels": false, "title": "λ", "titleFontSize": 17, "titlePadding": 8, "grid": true, "zindex": 1}}
  },
  "layer": [
    {"mark": {"type": "area", "color": "#ffb2b2", "opacity": 1}, "encoding": {"y2": {"datum": 1}}},
    {"mark": {"type": "area", "color": "#b2d8b2", "opacity": 1}, "encoding": {"y2": {"datum": 0}}},
    {"mark": {"type": "line", "color": "#808080", "strokeWidth": 1}}
  ]
}
]
}
